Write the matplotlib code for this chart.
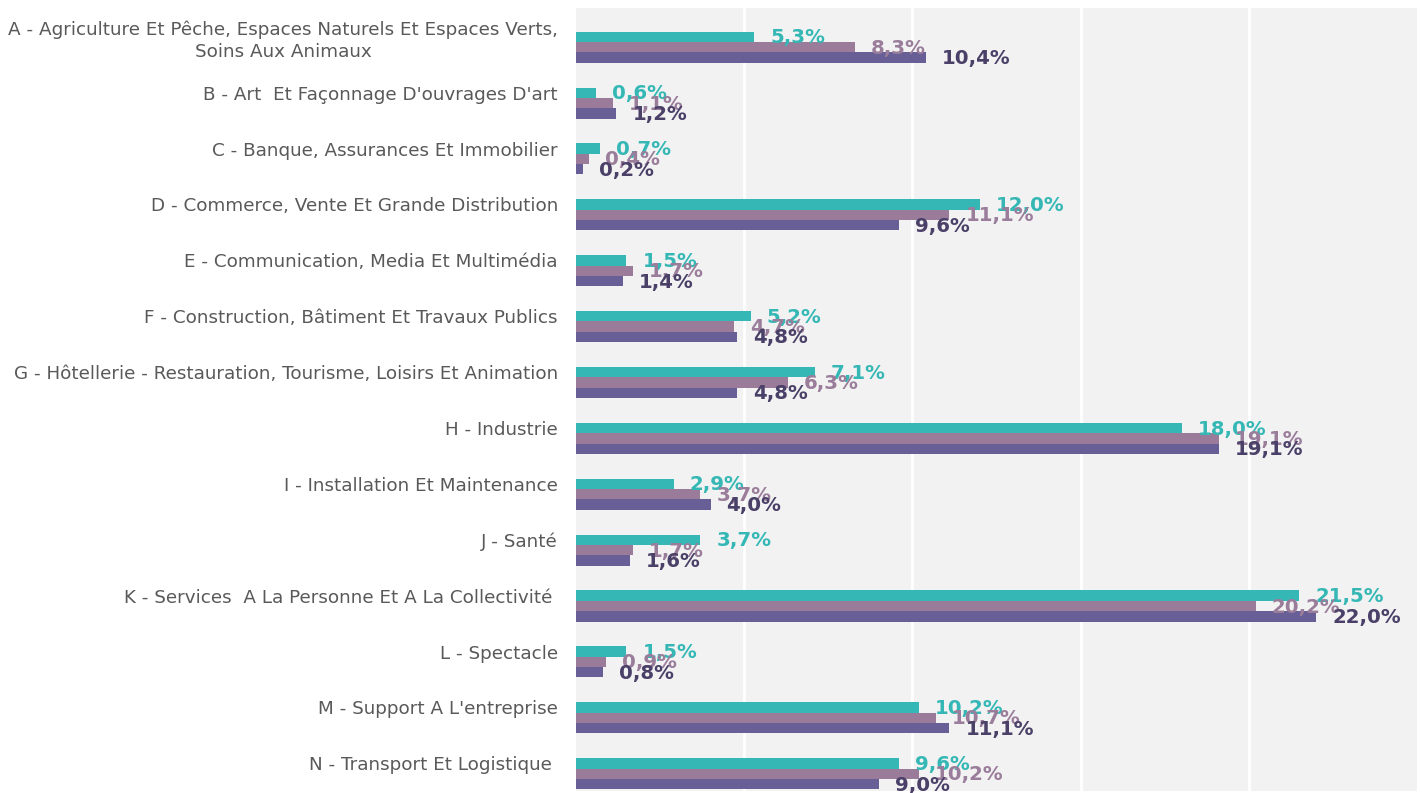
import matplotlib
matplotlib.use("Agg")
import matplotlib.pyplot as plt
import numpy as np

plt.rcParams["font.family"] = ["DejaVu Sans"]

categories = [
    "A - Agriculture Et Pêche, Espaces Naturels Et Espaces Verts,\nSoins Aux Animaux",
    "B - Art  Et Façonnage D'ouvrages D'art",
    "C - Banque, Assurances Et Immobilier",
    "D - Commerce, Vente Et Grande Distribution",
    "E - Communication, Media Et Multimédia",
    "F - Construction, Bâtiment Et Travaux Publics",
    "G - Hôtellerie - Restauration, Tourisme, Loisirs Et Animation",
    "H - Industrie",
    "I - Installation Et Maintenance",
    "J - Santé",
    "K - Services  A La Personne Et A La Collectivité ",
    "L - Spectacle",
    "M - Support A L'entreprise",
    "N - Transport Et Logistique ",
]
teal_values = [5.3, 0.6, 0.7, 12.0, 1.5, 5.2, 7.1, 18.0, 2.9, 3.7, 21.5, 1.5, 10.2, 9.6]
mauve_values = [8.3, 1.1, 0.4, 11.1, 1.7, 4.7, 6.3, 19.1, 3.7, 1.7, 20.2, 0.9, 10.7, 10.2]
purple_values = [10.4, 1.2, 0.2, 9.6, 1.4, 4.8, 4.8, 19.1, 4.0, 1.6, 22.0, 0.8, 11.1, 9.0]

series = [
    (teal_values, "#35B7B5", "#35B8B5"),
    (mauve_values, "#9A7B9A", "#9A7D9B"),
    (purple_values, "#675F95", "#4A4068"),
]

fig = plt.figure(figsize=(14.22, 7.93), dpi=100)
ax = fig.add_axes([576 / 1422, 2 / 793, (1417 - 576) / 1422, (791 - 8) / 793])
ax.set_facecolor("#F2F2F2")

y = np.arange(len(categories))
h = 0.185
for k, (vals, color, label_color) in enumerate(series):
    pos = y + (k - 1) * h
    ax.barh(pos, vals, height=h, color=color, zorder=2)
    for p, v in zip(pos, vals):
        ax.annotate(f"{v:.1f}%".replace(".", ","), (v, p), xytext=(16, -1),
                    textcoords="offset pixels", va="center", ha="left",
                    fontsize=14.2, fontweight="bold", color=label_color, zorder=3)

ax.set_xlim(0, 25)
ax.set_ylim(13.31, -0.70)
ax.set_xticks([5, 10, 15, 20])
ax.xaxis.grid(True, color="white", linewidth=2, zorder=1)
ax.tick_params(axis="x", length=0, labelbottom=False)
ax.set_yticks(y - h)
ax.set_yticklabels(categories, fontsize=13.2, color="#595959",
                   multialignment="center", linespacing=1.25)
ax.tick_params(axis="y", length=0, pad=13)
for s in ax.spines.values():
    s.set_visible(False)

fig.savefig("out.png", dpi=100)
